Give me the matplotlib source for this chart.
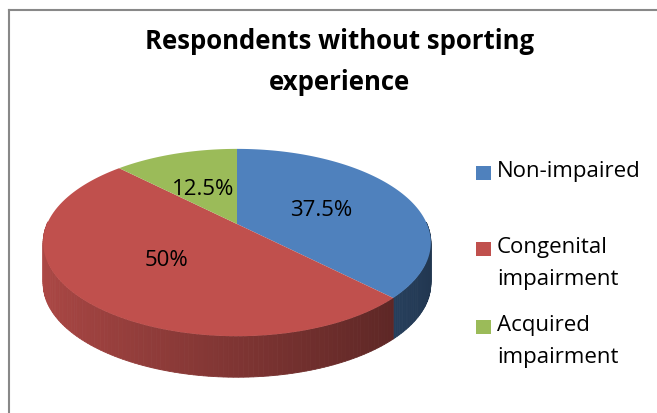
import numpy as np
import matplotlib.pyplot as plt
import matplotlib.transforms as mtransforms
from matplotlib.path import Path
from matplotlib.patches import Polygon, Rectangle
from matplotlib.lines import Line2D

# data
labels = ['Non-impaired', 'Congenital\nimpairment', 'Acquired\nimpairment']
values = [37.5, 50, 12.5]
colors = ['#4F81BD', '#C0504D', '#9BBB59']
title = 'Respondents without sporting\nexperience'

W, H = 657, 414
plt.rcParams['font.family'] = ['Open Sans', 'DejaVu Sans']


class Perspective(mtransforms.Transform):
    """tilted disc -> screen pixels (far side smaller, like excel 3d pie)"""
    input_dims = output_dims = 2

    def __init__(self, cx, cy, sx, sy, k):
        super().__init__()
        self.cx, self.cy, self.sx, self.sy, self.k = cx, cy, sx, sy, k

    def transform_non_affine(self, xy):
        xy = np.asarray(xy, dtype=float).reshape(-1, 2)
        u, v = xy[:, 0], xy[:, 1]
        d = 1 + self.k * v
        return np.column_stack([self.cx + self.sx * u / d,
                                self.cy - self.sy * v / d])

    def transform_path_non_affine(self, path):
        pts = []
        for seg, code in path.iter_bezier():
            n = 1 if seg.degree == 0 else (2 if seg.degree == 1 else 25)
            pts.append(seg(np.linspace(0, 1, n)))
        return Path(self.transform_non_affine(np.concatenate(pts)), closed=True)


fig = plt.figure(figsize=(W / 100, H / 100), dpi=100)
ax = fig.add_axes([0, 0, 1, 1])

persp = Perspective(237, 225, 190, 90, 0.198)
depth = 41  # pixels


def shade(col, f):
    r, g, bb = [int(col[i:i + 2], 16) / 255 for i in (1, 3, 5)]
    return (min(r * f, 1), min(g * f, 1), min(bb * f, 1))


# side wall of the 3d pie
total = sum(values)
segs = []
start = 90.0
for v, c in zip(values, colors):
    end = start - 360 * v / total
    ths = np.radians(np.linspace(start, end, 150))
    for t0, t1 in zip(ths[:-1], ths[1:]):
        if np.sin(t0) > 0.02 and np.sin(t1) > 0.02:
            continue
        segs.append(((np.sin(t0) + np.sin(t1)) / 2, t0, t1, c))
    start = end

for s, t0, t1, c in sorted(segs, key=lambda q: -q[0]):
    f = 0.66 - 0.245 * np.cos((t0 + t1) / 2)
    sc = shade(c, f)
    top = persp.transform([(np.cos(t0), np.sin(t0)), (np.cos(t1), np.sin(t1))])
    pts = [top[0], top[1], top[1] + [0, depth], top[0] + [0, depth]]
    ax.add_patch(Polygon(pts, closed=True, facecolor=sc, edgecolor=sc,
                         linewidth=0.6, zorder=1))

# top face
wedges, texts, autotexts = ax.pie(
    values, colors=colors, startangle=90, counterclock=False, radius=1,
    center=(0, 0), autopct=lambda p: f'{p:g}%', pctdistance=0.55,
    textprops=dict(fontsize=16, color='black'),
    wedgeprops=dict(linewidth=0))
for w in wedges:
    w.set_transform(persp + ax.transData)
    w.set_zorder(2)

# label placement as in the reference (pixels)
pct_pos = [(321, 211), (166, 261), (203, 190)]
for t, p in zip(autotexts, pct_pos):
    t.set_position(p)
    t.set_zorder(3)

ax.set_aspect('auto')
ax.set_xlim(0, W)
ax.set_ylim(H, 0)
ax.axis('off')

# title
fig.text(340 / W, 1 - 62 / H, title, ha='center', va='center',
         fontsize=18.5, fontweight='bold', linespacing=1.64)

# legend
leg_top = [167, 243, 321]
for lab, c, y in zip(labels, colors, leg_top):
    fig.patches.append(Rectangle((476 / W, 1 - (y + 14) / H), 15 / W, 14 / H,
                                 transform=fig.transFigure, facecolor=c,
                                 edgecolor='none'))
    fig.text(497 / W, 1 - (y - 6) / H, lab, ha='left', va='top',
             fontsize=16, linespacing=1.7)

# chart border
fig.lines.append(Line2D([9 / W, 1], [1 - 11 / H, 1 - 11 / H],
                        transform=fig.transFigure, color='#888888', lw=1.5))
fig.lines.append(Line2D([9 / W, 9 / W], [0, 1 - 11 / H],
                        transform=fig.transFigure, color='#888888', lw=1.5))

fig.savefig('out.png', dpi=100)
